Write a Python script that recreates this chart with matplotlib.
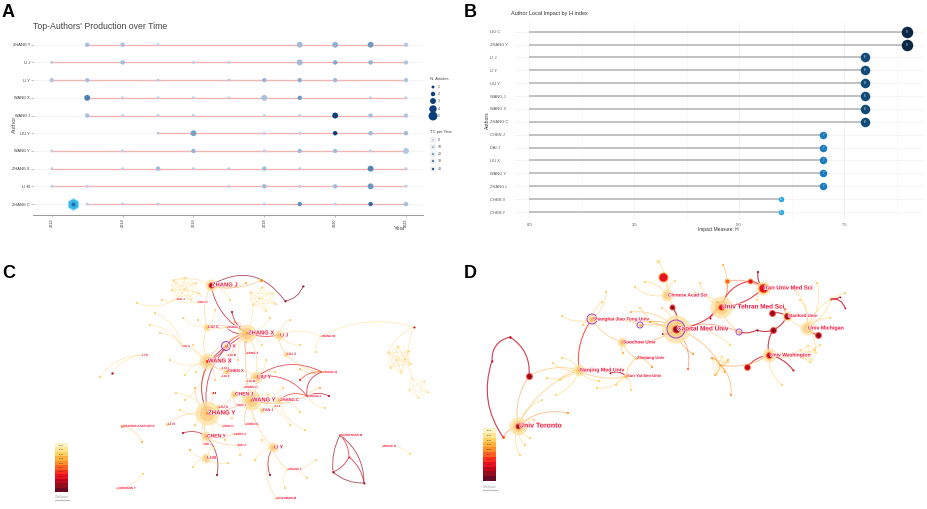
import matplotlib
matplotlib.use("Agg")
import matplotlib.pyplot as plt
import matplotlib.patheffects as pe
from matplotlib.patches import FancyArrowPatch
from matplotlib.colors import LinearSegmentedColormap
from itertools import combinations

plt.rcParams['font.family'] = ['Liberation Sans', 'DejaVu Sans']

W, H = 927, 509

# ---------------- Panel A data ----------------
A_authors = ["ZHANG Y", "LI J", "LI Y", "WANG X", "WANG J", "LIU Y", "WANG Y", "ZHANG X", "LI M", "ZHANG C"]
A_year = [
    [2013, 2014, 2015, 2019, 2020, 2021, 2022],
    [2012, 2014, 2016, 2017, 2019, 2020, 2021, 2022],
    [2012, 2013, 2015, 2017, 2018, 2019, 2020, 2022],
    [2013, 2014, 2015, 2016, 2017, 2018, 2019, 2021, 2022],
    [2013, 2014, 2015, 2016, 2018, 2019, 2020, 2021, 2022],
    [2015, 2016, 2018, 2019, 2020, 2021, 2022],
    [2012, 2014, 2016, 2018, 2019, 2020, 2021, 2022],
    [2012, 2014, 2015, 2016, 2017, 2018, 2019, 2021, 2022],
    [2012, 2013, 2017, 2018, 2019, 2020, 2021, 2022],
    [2013, 2014, 2015, 2018, 2019, 2020, 2021, 2022],
]
A_n = [
    [2, 2, 1, 3, 3, 3, 2],
    [1, 2, 1, 1, 3, 2, 2, 2],
    [2, 2, 1, 1, 2, 2, 2, 2],
    [3, 1, 1, 1, 1, 3, 2, 1, 1],
    [2, 1, 1, 1, 1, 1, 3, 2, 2],
    [1, 3, 1, 1, 2, 2, 2],
    [1, 1, 2, 1, 2, 2, 1, 3],
    [1, 1, 2, 1, 1, 2, 1, 3, 1],
    [1, 1, 1, 2, 1, 2, 3, 1],
    [1, 1, 1, 1, 2, 1, 2, 2],
]
A_tc = [
    [8, 8, 2, 10, 14, 22, 5],
    [2, 10, 2, 2, 10, 18, 14, 5],
    [5, 8, 2, 2, 12, 15, 10, 5],
    [30, 2, 2, 2, 2, 8, 22, 2, 2],
    [8, 2, 2, 2, 2, 2, 45, 8, 5],
    [2, 20, 2, 2, 45, 10, 10],
    [2, 2, 12, 2, 10, 10, 2, 5],
    [2, 2, 10, 2, 2, 10, 2, 28, 2],
    [2, 2, 2, 10, 2, 10, 22, 2],
    [2, 2, 2, 2, 25, 2, 35, 8],
]
A_xticks = [2012, 2014, 2016, 2018, 2020, 2022]
A_leg_n = [1, 2, 3, 4, 5]
A_leg_tc = [0, 10, 20, 30, 40]

# ---------------- Panel B data ----------------
B_authors = ["LIU C", "ZHANG Y", "LI J", "LI Y", "LIU Y", "WANG J", "WANG X", "ZHANG C",
             "CHEN J", "DAI J", "LIU X", "WANG Y", "ZHANG L", "CHEN X", "CHEN Y"]
B_h = [9, 9, 8, 8, 8, 8, 8, 8, 7, 7, 7, 7, 7, 6, 6]
B_xticks = [0.0, 2.5, 5.0, 7.5]

# ---------------- Year colour scale (CiteSpace) ----------------
years = list(range(2012, 2023))
year_colors = ['#6a0a22', '#930c1e', '#c3061c', '#e8101e', '#ff2d1c', '#ff5f20',
               '#ff8d2a', '#ffb13c', '#ffcf60', '#ffe494', '#fff3c6']
YC = dict(zip(years, year_colors))

# ---------------- Panel C data (network, pixel layout) ----------------
# name, x, y, glow radius, core radius, year, label fontsize, ring radius
C_nodes = [
    ("ZHANG J", 211, 285, 6, 2.0, 2013, 4.2, 0),
    ("DAI J", 176, 299, 0, 0.8, 2020, 2.2, 0),
    ("ZOU H", 197, 302, 0, 0.8, 2019, 2.2, 0),
    ("LIU C", 207, 327, 4, 1.0, 2019, 3.0, 0),
    ("ZHANG P", 226, 327, 0, 0.8, 2019, 2.2, 0),
    ("ZHANG X", 247, 333, 9, 1.5, 2018, 4.2, 0),
    ("LI J", 279, 335, 5, 1.0, 2019, 3.4, 0),
    ("WANG W", 321, 336, 0, 0.8, 2020, 2.2, 0),
    ("LI X", 226, 346, 3, 1.2, 2017, 3.4, 4.5),
    ("LIU B", 227, 355, 0, 0.8, 2019, 2.2, 0),
    ("FENG X", 246, 353, 0, 0.8, 2017, 2.2, 0),
    ("LIU J", 286, 354, 3, 0.8, 2019, 2.6, 0),
    ("XU X", 182, 346, 0, 0.8, 2020, 2.2, 0),
    ("LI B", 141, 355, 0, 0.8, 2020, 2.2, 0),
    ("WANG X", 207, 361, 8, 1.5, 2016, 4.2, 0),
    ("LIU L", 221, 368, 0, 0.8, 2019, 2.2, 0),
    ("CHEN X", 227, 371, 4, 1.0, 2018, 3.0, 0),
    ("LIU Z", 221, 376, 0, 0.8, 2019, 2.2, 0),
    ("LIU Y", 256, 377, 6, 1.2, 2019, 4.0, 0),
    ("LIU M", 246, 381, 0, 0.8, 2019, 2.2, 0),
    ("WANG H", 244, 387, 0, 0.8, 2018, 2.2, 0),
    ("ZHANG Q", 322, 372, 0, 0.8, 2019, 2.2, 0),
    ("ZHANG L", 307, 396, 0, 0.8, 2016, 2.2, 0),
    ("LI L", 212, 393, 0, 0.8, 2019, 2.2, 0),
    ("CHEN J", 234, 394, 4, 1.0, 2019, 3.6, 0),
    ("WANG Y", 251, 400, 10, 1.5, 2018, 4.2, 0),
    ("ZHANG C", 279, 400, 4, 1.0, 2019, 3.0, 0),
    ("LI Z", 274, 406, 0, 0.8, 2019, 2.2, 0),
    ("LIU X", 218, 407, 3, 0.8, 2018, 2.6, 0),
    ("SUN J", 236, 405, 0, 0.8, 2019, 2.2, 0),
    ("FAN J", 262, 410, 3, 0.8, 2019, 2.6, 0),
    ("ZHANG Y", 207, 413, 12, 1.5, 2018, 4.4, 0),
    ("SHAFIEE-KASTLER E", 122, 426, 2, 1.3, 2017, 2.2, 0),
    ("LI N", 167, 424, 2, 0.8, 2019, 2.6, 0),
    ("ZHAO L", 222, 426, 0, 0.8, 2019, 2.2, 0),
    ("CHEN B", 245, 424, 0, 0.8, 2018, 2.2, 0),
    ("CHEN Y", 206, 436, 5, 1.2, 2018, 3.6, 0),
    ("CHEN H", 233, 434, 0, 0.8, 2019, 2.2, 0),
    ("SHI J", 203, 444, 0, 0.8, 2019, 2.2, 0),
    ("MA H", 237, 445, 0, 0.8, 2019, 2.2, 0),
    ("LI Y", 273, 447, 5, 1.0, 2019, 3.6, 0),
    ("LI M", 206, 458, 5, 0.8, 2020, 3.2, 0),
    ("ZHANG Z", 287, 469, 0, 0.8, 2019, 2.2, 0),
    ("GOODYEAR M", 340, 435, 1, 1.2, 2016, 2.2, 0),
    ("WOOD N", 382, 446, 0, 0.8, 2019, 2.2, 0),
    ("JOHNSON T", 117, 488, 1, 1.0, 2018, 2.2, 0),
    ("GOLDMAN M", 276, 498, 1, 1.0, 2018, 2.2, 0),
    ("_a", 285, 301, 0, 1.0, 2013, 0, 0),
    ("_b", 303, 286, 0, 1.0, 2013, 0, 0),
    ("_c", 414, 327, 0, 1.0, 2014, 0, 0),
    ("_g1", 333, 472, 0, 1.0, 2013, 0, 0),
    ("_g2", 349, 457, 0, 0.8, 2015, 0, 0),
    ("_g3", 364, 483, 0, 1.0, 2013, 0, 0),
    ("_o", 261, 280, 2, 1.5, 2018, 0, 0),
    ("_r", 112, 373, 0, 1.2, 2014, 0, 0),
]
# a, b, curvature, edge year (0 = later of the two nodes)
C_edges = [
    ("ZHANG J", "_a", -0.45, 2013), ("_a", "_b", 0.3, 2013), ("_c", "WANG W", 0.2, 2020),
    ("GOODYEAR M", "_g1", 0.15, 2013), ("GOODYEAR M", "_g3", -0.25, 2013), ("_g1", "_g2", 0.2, 2014),
    ("_g2", "GOODYEAR M", 0.2, 2015), ("_g1", "_g3", 0.2, 2013), ("_g2", "_g3", -0.2, 2014),
    ("ZHANG X", "LI X", 0.2, 2016), ("ZHANG X", "WANG X", 0.2, 0), ("ZHANG X", "LIU Y", -0.2, 0),
    ("ZHANG X", "LI J", 0.15, 2015), ("ZHANG X", "LIU C", 0.2, 0), ("ZHANG X", "FENG X", 0.2, 0),
    ("ZHANG X", "ZHANG P", -0.3, 2014), ("ZHANG X", "CHEN X", 0.2, 0), ("ZHANG X", "WANG Y", 0.1, 0),
    ("ZHANG X", "ZHANG Y", 0.35, 2014), ("WANG X", "ZHANG Y", 0.2, 0), ("WANG X", "LIU C", -0.2, 0),
    ("WANG X", "CHEN X", 0.2, 0), ("WANG X", "LI X", 0.2, 2015), ("WANG Y", "ZHANG Y", -0.1, 0),
    ("WANG Y", "CHEN J", 0.2, 0), ("WANG Y", "LIU Y", 0.2, 0), ("WANG Y", "ZHANG C", 0.2, 0),
    ("WANG Y", "LI Y", 0.2, 0), ("WANG Y", "FAN J", 0.2, 0), ("WANG Y", "CHEN B", 0.2, 0),
    ("ZHANG Y", "CHEN Y", 0.2, 0), ("ZHANG Y", "LIU X", 0.2, 0), ("ZHANG Y", "LI M", -0.3, 0),
    ("ZHANG Y", "CHEN J", 0.2, 0), ("ZHANG Y", "SHI J", 0.2, 0), ("ZHANG Y", "LI N", 0.2, 0),
    ("CHEN Y", "MA H", 0.2, 0), ("CHEN Y", "CHEN H", 0.2, 0), ("LIU Y", "ZHANG L", -0.3, 2015),
    ("LIU Y", "ZHANG Q", -0.3, 2015), ("LIU Y", "LIU M", 0.2, 0), ("LIU Y", "WANG H", 0.2, 0),
    ("LI J", "LIU J", 0.2, 0), ("ZHANG J", "LIU C", 0.2, 0), ("ZHANG J", "ZHANG X", 0.25, 2014),
    ("LI Y", "ZHANG Z", 0.2, 0), ("LI Y", "GOLDMAN M", 0.3, 0), ("LI X", "LIU B", 0.2, 0),
    ("CHEN J", "SUN J", 0.2, 0), ("ZHANG C", "LI Z", 0.2, 0), ("ZHANG L", "ZHANG C", 0.3, 2016),
    ("DAI J", "ZOU H", 0.2, 0), ("LI J", "WANG W", -0.2, 0), ("WANG X", "XU X", 0.2, 0),
    ("LIU C", "ZHANG P", 0.2, 0), ("LI X", "ZHANG Y", 0.4, 2014), ("CHEN X", "LIU L", 0.2, 0),
    ("CHEN X", "LIU Z", 0.2, 0), ("ZHANG Y", "LI L", 0.2, 0), ("ZHANG Y", "ZHAO L", 0.2, 0),
    ("ZHANG J", "_o", 0.2, 0), ("LI B", "_r", 0.2, 0), ("ZHANG Q", "ZHANG L", 0.4, 2014),
    ("LIU J", "ZHANG Q", 0.2, 0), ("WANG Y", "ZHANG L", 0.2, 0),
]
# x, y, year, node it hangs from
C_small = [
    (137, 303, 2020, "DAI J"), (155, 313, 2020, "XU X"), (183, 318, 2020, "LIU C"),
    (160, 333, 2020, "XU X"), (193, 345, 2020, "WANG X"), (100, 377, 2021, "LI B"),
    (170, 360, 2020, "WANG X"), (185, 375, 2020, "WANG X"), (195, 388, 2019, "ZHANG Y"),
    (176, 393, 2020, "ZHANG Y"), (180, 410, 2020, "ZHANG Y"), (183, 433, 2014, "CHEN Y"),
    (190, 450, 2019, "LI M"), (193, 467, 2020, "LI M"), (217, 475, 2013, "CHEN Y"),
    (228, 463, 2020, "LI M"), (300, 412, 2020, "ZHANG C"), (305, 430, 2020, "ZHANG C"),
    (320, 388, 2019, "ZHANG L"), (325, 408, 2020, "ZHANG L"), (329, 396, 2014, "ZHANG L"),
    (300, 380, 2016, "ZHANG Q"), (300, 369, 2019, "ZHANG Q"), (270, 318, 2020, "ZHANG X"),
    (262, 440, 2020, "LI Y"), (270, 475, 2013, "LI Y"), (307, 478, 2020, "ZHANG Z"),
    (285, 488, 2020, "ZHANG Z"), (246, 342, 2019, "ZHANG X"), (235, 322, 2018, "ZHANG X"),
    (232, 312, 2014, "ZHANG X"), (246, 283, 2019, "ZHANG J"), (142, 442, 2019, "SHAFIEE-KASTLER E"),
    (143, 474, 2020, "JOHNSON T"), (410, 454, 2020, "WOOD N"), (316, 460, 2020, "ZHANG Z"),
    (230, 300, 2020, "ZHANG J"), (215, 310, 2021, "LIU C"), (198, 320, 2021, "LIU C"),
    (266, 360, 2020, "LIU Y"), (275, 372, 2020, "LIU Y"), (283, 388, 2020, "WANG Y"),
    (290, 425, 2020, "WANG Y"), (258, 425, 2021, "WANG Y"), (232, 418, 2021, "ZHANG Y"),
    (195, 425, 2021, "ZHANG Y"), (185, 400, 2021, "WANG X"), (196, 372, 2021, "WANG X"),
    (215, 380, 2021, "WANG X"), (238, 360, 2021, "ZHANG X"), (262, 345, 2021, "ZHANG X"),
    (300, 345, 2021, "LI J"), (290, 320, 2021, "LI J"), (255, 460, 2021, "LI Y"),
    (240, 455, 2020, "MA H"), (214, 448, 2021, "CHEN Y"), (162, 300, 2021, "DAI J"),
    (150, 325, 2021, "XU X"), (225, 440, 2020, "CHEN Y"), (316, 352, 2020, "WANG W"),
    (268, 395, 2021, "WANG Y"), (236, 372, 2021, "LIU Y"),
]
C_mesh = [
    ("ZHANG J", [(173, 280), (185, 277), (196, 283), (200, 294), (191, 300), (178, 298), (171, 290), (184, 289)]),
    ("ZHANG X", [(250, 292), (262, 287), (273, 293), (276, 304), (266, 311), (253, 305), (259, 298)]),
    ("_c", [(388, 352), (398, 346), (409, 351), (411, 364), (401, 373), (390, 368), (396, 360), (405, 359)]),
    ("_c", [(412, 378), (424, 381), (428, 392), (418, 398), (409, 390)]),
]

# ---------------- Panel D data ----------------
D_nodes = [
    ("Capital Med Univ", 676, 329, 14, 3.0, 2013, 4.6, 9),
    ("Univ Tehran Med Sci", 721, 307, 11, 2.5, 2015, 4.6, 0),
    ("Iran Univ Med Sci", 763, 288, 7, 4.0, 2015, 4.2, 0),
    ("Chinese Acad Sci", 667, 295, 6, 1.0, 2020, 3.4, 0),
    ("Shanghai Jiao Tong Univ", 592, 319, 5, 1.5, 2019, 3.4, 5),
    ("Soochow Univ", 622, 342, 5, 1.2, 2018, 3.4, 0),
    ("Zhejiang Univ", 636, 358, 2, 1.0, 2019, 3.0, 0),
    ("Nanjing Med Univ", 579, 370, 6, 1.2, 2019, 3.8, 0),
    ("Sun Yat Sen Univ", 626, 376, 3, 1.0, 2018, 3.0, 0),
    ("Univ Toronto", 518, 426, 9, 2.0, 2013, 5.0, 0),
    ("Stanford Univ", 787, 316, 5, 2.5, 2013, 3.2, 0),
    ("Univ Michigan", 807, 328, 7, 1.2, 2021, 3.8, 0),
    ("Univ Washington", 769, 355, 7, 2.5, 2014, 3.6, 0),
    ("_d1", 663, 277, 0, 4.0, 2015, 0, 0),
    ("_d2", 658, 261, 2, 1.5, 2021, 0, 0),
    ("_d3", 672, 307, 0, 2.0, 2013, 0, 0),
    ("_d4", 640, 325, 2, 1.2, 2019, 0, 3),
    ("_d5", 739, 332, 2, 1.2, 2019, 0, 3),
    ("_d6", 773, 330, 2, 2.5, 2013, 0, 0),
    ("_d7", 772, 313, 2, 2.5, 2013, 0, 0),
    ("_d8", 818, 335, 2, 2.5, 2013, 0, 0),
    ("_d9", 747, 367, 2, 2.5, 2014, 0, 0),
    ("_d10", 529, 376, 2, 2.5, 2013, 0, 0),
    ("_d11", 510, 337, 0, 1.2, 2014, 0, 0),
    ("_d12", 492, 361, 0, 1.0, 2014, 0, 0),
    ("_d13", 503, 437, 1, 1.5, 2017, 0, 0),
    ("_d14", 750, 281, 0, 2.0, 2015, 0, 0),
    ("_d15", 727, 281, 1, 2.0, 2017, 0, 0),
    ("_d16", 831, 299, 0, 1.2, 2017, 0, 0),
    ("_d17", 845, 308, 0, 0.8, 2014, 0, 0),
    ("_d18", 840, 297, 0, 0.8, 2013, 0, 0),
    ("_dm", 720, 365, 0, 0.8, 2018, 0, 0),
    ("_d19", 610, 373, 0, 0.8, 2014, 0, 0),
    ("_d20", 757, 330, 0, 1.0, 2013, 0, 0),
    ("_d21", 710, 318, 0, 1.0, 2014, 0, 0),
    ("_d22", 793, 370, 0, 1.0, 2014, 0, 0),
]
D_edges = [
    ("Capital Med Univ", "Chinese Acad Sci", 0.2, 0), ("Capital Med Univ", "_d3", 0.3, 2014),
    ("Capital Med Univ", "_d4", 0.1, 0), ("_d4", "Shanghai Jiao Tong Univ", 0.15, 0),
    ("Capital Med Univ", "Soochow Univ", -0.2, 0), ("Capital Med Univ", "Univ Tehran Med Sci", 0.2, 0),
    ("Capital Med Univ", "_d5", -0.2, 2017), ("_d5", "_d20", 0.2, 2014), ("_d20", "_d6", 0.2, 2014),
    ("_d6", "Stanford Univ", 0.2, 2014), ("Stanford Univ", "_d7", 0.2, 2014),
    ("Stanford Univ", "Univ Michigan", 0.2, 0), ("Univ Michigan", "_d8", 0.2, 2016),
    ("Univ Michigan", "_d16", 0.2, 0), ("_d16", "_d17", -0.4, 2014), ("_d16", "_d18", 0.2, 2014),
    ("_d6", "Univ Washington", 0.2, 2014), ("Univ Washington", "_d9", 0.2, 2015),
    ("Univ Washington", "_d22", -0.2, 2014), ("Univ Tehran Med Sci", "Iran Univ Med Sci", 0.2, 2015),
    ("Univ Tehran Med Sci", "_d14", -0.3, 2015), ("Univ Tehran Med Sci", "_d15", 0.2, 0),
    ("Univ Tehran Med Sci", "_d21", 0.2, 0), ("Iran Univ Med Sci", "_d14", 0.2, 2015),
    ("Univ Tehran Med Sci", "_d5", 0.2, 2019), ("Chinese Acad Sci", "_d1", 0.2, 0),
    ("Chinese Acad Sci", "_d2", 0.2, 0), ("Shanghai Jiao Tong Univ", "Nanjing Med Univ", 0.2, 2016),
    ("Shanghai Jiao Tong Univ", "Soochow Univ", 0.2, 0), ("Nanjing Med Univ", "Sun Yat Sen Univ", 0.2, 0),
    ("Sun Yat Sen Univ", "_d19", 0.3, 2014), ("Zhejiang Univ", "Sun Yat Sen Univ", 0.2, 0),
    ("Soochow Univ", "Zhejiang Univ", 0.2, 0), ("Nanjing Med Univ", "_d10", 0.2, 0),
    ("_d10", "Univ Toronto", 0.2, 2018), ("_d11", "_d10", -0.3, 2014), ("_d11", "_d12", 0.4, 2014),
    ("_d12", "_d13", 0.25, 2014), ("Univ Toronto", "_d13", 0.2, 0), ("Capital Med Univ", "_dm", -0.2, 2018),
    ("_dm", "Univ Washington", 0.2, 2018), ("Univ Toronto", "Nanjing Med Univ", -0.2, 2019),
    ("Shanghai Jiao Tong Univ", "Capital Med Univ", -0.1, 0), ("Iran Univ Med Sci", "_d15", 0.2, 0),
]
D_small = [
    (675, 281, 2021, "Chinese Acad Sci"), (662, 308, 2020, "Capital Med Univ"),
    (663, 334, 2014, "Capital Med Univ"), (631, 312, 2019, "Capital Med Univ"),
    (602, 302, 2020, "Shanghai Jiao Tong Univ"), (583, 325, 2021, "Shanghai Jiao Tong Univ"),
    (562, 316, 2020, "Shanghai Jiao Tong Univ"), (562, 358, 2020, "Nanjing Med Univ"),
    (547, 378, 2020, "Nanjing Med Univ"), (530, 438, 2020, "Univ Toronto"),
    (568, 413, 2018, "Univ Toronto"), (525, 445, 2021, "Univ Toronto"), (534, 420, 2020, "Univ Toronto"),
    (623, 353, 2019, "Soochow Univ"), (652, 367, 2018, "Zhejiang Univ"),
    (616, 385, 2020, "Sun Yat Sen Univ"), (631, 390, 2020, "Sun Yat Sen Univ"),
    (693, 354, 2018, "Capital Med Univ"), (688, 369, 2017, "Capital Med Univ"),
    (723, 265, 2019, "Univ Tehran Med Sci"), (758, 272, 2013, "Iran Univ Med Sci"),
    (717, 302, 2013, "Univ Tehran Med Sci"), (785, 309, 2017, "Stanford Univ"),
    (817, 283, 2020, "Univ Michigan"), (810, 362, 2021, "Univ Washington"),
    (782, 385, 2020, "Univ Washington"), (731, 395, 2018, "_dm"), (712, 358, 2018, "_dm"),
    (725, 372, 2019, "_dm"), (728, 360, 2019, "_dm"), (715, 375, 2019, "_dm"),
    (800, 300, 2020, "Univ Michigan"), (815, 350, 2021, "Univ Michigan"),
    (820, 345, 2021, "Univ Washington"), (845, 293, 2020, "Univ Michigan"),
    (695, 293, 2020, "Univ Tehran Med Sci"), (700, 283, 2021, "Univ Tehran Med Sci"),
    (560, 380, 2020, "Nanjing Med Univ"), (553, 363, 2021, "Nanjing Med Univ"),
    (606, 292, 2021, "Shanghai Jiao Tong Univ"), (640, 308, 2021, "Capital Med Univ"),
    (650, 322, 2018, "Capital Med Univ"), (597, 388, 2021, "Sun Yat Sen Univ"),
    (599, 381, 2020, "Nanjing Med Univ"), (635, 287, 2021, "Chinese Acad Sci"),
    (645, 282, 2020, "Chinese Acad Sci"), (542, 400, 2020, "Univ Toronto"),
    (520, 455, 2020, "Univ Toronto"), (556, 395, 2020, "Nanjing Med Univ"),
    (795, 290, 2021, "Univ Michigan"), (830, 318, 2021, "Univ Michigan"),
    (757, 300, 2020, "Iran Univ Med Sci"), (730, 345, 2020, "Capital Med Univ"),
]
D_mesh = [
    ("_dm", [(712, 358), (722, 356), (728, 362), (725, 372), (716, 374), (720, 365)]),
    ("Univ Washington", [(800, 350), (808, 345), (816, 352), (812, 360), (803, 358)]),
]

# ================= drawing =================
fig = plt.figure(figsize=(W / 100, H / 100), dpi=100)
fig.patch.set_facecolor('white')


def px_axes(x0, y0, x1, y1):
    return fig.add_axes([x0 / W, 1 - y1 / H, (x1 - x0) / W, (y1 - y0) / H])


def s_px(d):  # diameter in px -> scatter size (pt^2)
    return (d * 0.72) ** 2


# ---------- Panel A ----------
axA = px_axes(33, 35, 423, 215)
nA = len(A_authors)
tc_cmap = LinearSegmentedColormap.from_list('tc', ['#c4d4e7', '#8eafd2', '#4d80b1', '#0a3e7d'])
for i, name in enumerate(A_authors):
    yv = nA - 1 - i
    axA.plot([2011.4, 2022.6], [yv, yv], color='#f2f2f2', lw=0.6, zorder=0)
    axA.plot([min(A_year[i]), 2022], [yv, yv], color='#f3b4b4', lw=1.0, zorder=1)
    axA.scatter(A_year[i], [yv] * len(A_year[i]),
                s=[s_px(1.4 + 1.5 * n) for n in A_n[i]],
                c=[tc_cmap(min(t, 45) / 45) for t in A_tc[i]], zorder=3, linewidths=0)
axA.set_xlim(2011.47, 2022.48)
axA.set_ylim(-0.62, 9.55)
axA.set_yticks(range(nA))
axA.set_yticklabels(A_authors[::-1], fontsize=2.8, color='#333333')
axA.set_xticks(A_xticks)
axA.set_xticklabels([str(v) for v in A_xticks], fontsize=2.8, rotation=90, color='#333333')
axA.tick_params(axis='both', length=1.2, width=0.4, color='#888888', pad=1)
for sp in ['top', 'right', 'left']:
    axA.spines[sp].set_visible(False)
axA.spines['bottom'].set_color('#999999')
axA.spines['bottom'].set_linewidth(0.7)
axA.set_facecolor('white')

# ---------- Panel B ----------
axB = px_axes(515, 22, 923, 220)
nB = len(B_authors)
h_cmap = LinearSegmentedColormap.from_list('h', ['#2fa8e0', '#1a7cbf', '#0f4b7b', '#0a2845'])
for v in [1.25 * k for k in range(8)]:
    axB.axvline(v, color='#eeeeee' if v in B_xticks else '#f6f6f6', lw=0.5, zorder=0)
for i, (name, h) in enumerate(zip(B_authors, B_h)):
    yv = nB - 1 - i
    axB.axhline(yv, color='#f0f0f0', lw=0.5, zorder=0)
    axB.plot([0, h], [yv, yv], color='#bcbcbc', lw=1.3, zorder=1, solid_capstyle='butt')
    axB.scatter([h], [yv], s=s_px(2 * h - 6.5), color=h_cmap((h - 6) / 3), zorder=3, linewidths=0)
    axB.text(h, yv, str(h), fontsize=2.0, color='white', ha='center', va='center', zorder=4)
axB.set_xlim(-0.34, 9.38)
axB.set_ylim(-0.62, 14.75)
axB.set_yticks(range(nB))
axB.set_yticklabels(B_authors[::-1], fontsize=2.9, color='#555555', ha='left')
axB.tick_params(axis='y', length=0, pad=18)
axB.set_xticks(B_xticks)
axB.set_xticklabels(['%.1f' % v for v in B_xticks], fontsize=3.0, color='#555555')
axB.tick_params(axis='x', length=0, pad=2)
for sp in axB.spines.values():
    sp.set_visible(False)


# ---------- Network helper ----------
def draw_network(ax, nodes, edges, small, meshes, lw_scale):
    pos = {n[0]: (n[1], n[2]) for n in nodes}
    yr = {n[0]: n[5] for n in nodes}

    def edge(p, q, year, rad, lw=None):
        old = year <= 2016
        col = YC[min(year, 2020)]
        patch = FancyArrowPatch(p, q, arrowstyle='-', connectionstyle='arc3,rad=%s' % rad,
                                color=col,
                                lw=(lw if lw else (0.6 if old else 0.45)) * lw_scale,
                                alpha=0.75 if old else 0.55, zorder=1, shrinkA=0, shrinkB=0)
        ax.add_patch(patch)

    for anchor, pts in meshes:
        for p, q in combinations(pts, 2):
            edge(p, q, 2021, 0.1, 0.28)
        edge(pos[anchor], pts[0], 2020, 0.2)
        ax.scatter([p[0] for p in pts], [p[1] for p in pts], s=s_px(1.5), color=YC[2020],
                   alpha=0.85, linewidths=0, zorder=2)
    for k, (x, y, year, parent) in enumerate(small):
        edge(pos[parent], (x, y), max(year, yr[parent]) if year > 2016 else year,
             0.25 if k % 2 else -0.25)
    ax.scatter([s[0] for s in small], [s[1] for s in small], s=s_px(2.2),
               color=[YC[min(s[2], 2020)] for s in small], alpha=0.9, linewidths=0, zorder=2)
    for k, (a, b, rad, year) in enumerate(edges):
        edge(pos[a], pos[b], year if year else max(yr[a], yr[b]), rad)
    for name, x, y, glow, core, year, fs, ring in nodes:
        if glow > 0:
            ax.scatter([x], [y], s=s_px(2 * glow), color='#fde3a4', alpha=0.8, linewidths=0, zorder=3)
            ax.scatter([x], [y], s=s_px(1.25 * glow), color='#fcc06a', alpha=0.55, linewidths=0, zorder=3)
        if core >= 2:
            ax.scatter([x], [y], s=s_px(2 * core + 2), color=YC[min(year + 3, 2020)], alpha=0.8,
                       linewidths=0, zorder=4)
        ax.scatter([x], [y], s=s_px(2 * core), color=YC[year], linewidths=0, zorder=4)
        if ring > 0:
            ax.scatter([x], [y], s=s_px(2 * ring), facecolors='none', edgecolors='#a43fc8',
                       linewidths=0.7, zorder=5)
        if not name.startswith('_'):
            ax.text(x + 1, y, name, fontsize=fs, color='#ff1438', ha='left', va='center',
                    fontweight='bold', zorder=6,
                    path_effects=[pe.withStroke(linewidth=0.8, foreground='white')])


def colorbar(ax, x0, y0, x1, y1):
    hgt = (y1 - y0) / len(years)
    for k, yv in enumerate(years[::-1]):
        yy = y0 + k * hgt
        ax.bar([(x0 + x1) / 2], [hgt], bottom=yy, width=x1 - x0, color=YC[yv], linewidth=0, zorder=7)
        ax.text((x0 + x1) / 2, yy + hgt / 2, str(yv), fontsize=1.6, color='#333333',
                ha='center', va='center', zorder=8)


axC = px_axes(0, 255, 460, 509)
axC.set_xlim(0, 460)
axC.set_ylim(509, 255)
axC.set_axis_off()
draw_network(axC, C_nodes, C_edges, C_small, C_mesh, 1.0)
colorbar(axC, 55, 443, 68, 492)
axC.text(62, 497, "CiteSpace", fontsize=2.2, color='#999999', ha='center', va='center')
axC.plot([55, 69], [500, 500], color='#bbbbbb', lw=0.8)

axD = px_axes(460, 255, 927, 509)
axD.set_xlim(460, 927)
axD.set_ylim(509, 255)
axD.set_axis_off()
draw_network(axD, D_nodes, D_edges, D_small, D_mesh, 1.4)
colorbar(axD, 483, 428, 496, 481)
axD.text(490, 487, "CiteSpace", fontsize=2.2, color='#999999', ha='center', va='center')
axD.plot([483, 497], [490, 490], color='#bbbbbb', lw=0.8)

# ---------- overlay: titles, legends, letters ----------
ov = fig.add_axes([0, 0, 1, 1])
ov.set_xlim(0, W)
ov.set_ylim(H, 0)
ov.set_axis_off()
for letter, x, y in [("A", 2, 12), ("B", 464, 12), ("C", 2, 274), ("D", 464, 274)]:
    ov.text(x, y, letter, fontsize=13, fontweight='bold', color='black', ha='left', va='center')
ov.text(33, 26, "Top-Authors' Production over Time", fontsize=6.3, color='#444444', ha='left', va='center')
ov.text(400, 229, "Year", fontsize=4.2, color='#555555', ha='center', va='center')
ov.text(14, 124, "Author", fontsize=4.2, color='#555555', ha='center', va='center', rotation=90)
ov.text(511, 13, "Author Local Impact by H index", fontsize=4.0, color='#333333', ha='left', va='center')
ov.text(718, 230, "Impact Measure: H", fontsize=3.4, color='#333333', ha='center', va='center')
ov.text(487, 120, "Authors", fontsize=3.6, color='#333333', ha='center', va='center', rotation=90)
# legend N. Articles
ov.text(430, 79, "N. Articles", fontsize=3.0, color='#444444', ha='left', va='center')
ly = [87, 94, 101, 109, 116]
ov.scatter([433] * 5, ly, s=[s_px(1.4 + 1.5 * n) for n in A_leg_n], color='#0a3e7d', linewidths=0)
for n, y in zip(A_leg_n, ly):
    ov.text(438, y, str(n), fontsize=2.6, color='#444444', ha='left', va='center')
ov.text(430, 132, "TC per Year", fontsize=3.0, color='#444444', ha='left', va='center')
ty = [140, 147, 154, 161, 169]
ov.bar([433] * 5, [6] * 5, bottom=[y - 3 for y in ty], width=6, color='#f2f2f2', linewidth=0)
ov.scatter([433] * 5, ty, s=s_px(2.4), c=[tc_cmap(t / 45) for t in A_leg_tc], linewidths=0, zorder=3)
for t, y in zip(A_leg_tc, ty):
    ov.text(438, y, str(t), fontsize=2.6, color='#444444', ha='left', va='center')
# small hexagon badge seen in panel A
ov.scatter([73], [204], marker='h', s=s_px(12), color='#38b6e6', linewidths=0.6, edgecolors='#a8e2f7')
ov.scatter([73], [204], marker='o', s=s_px(4), color='#1f6fb0', linewidths=0)

fig.savefig("out.png", dpi=100, facecolor='white')
